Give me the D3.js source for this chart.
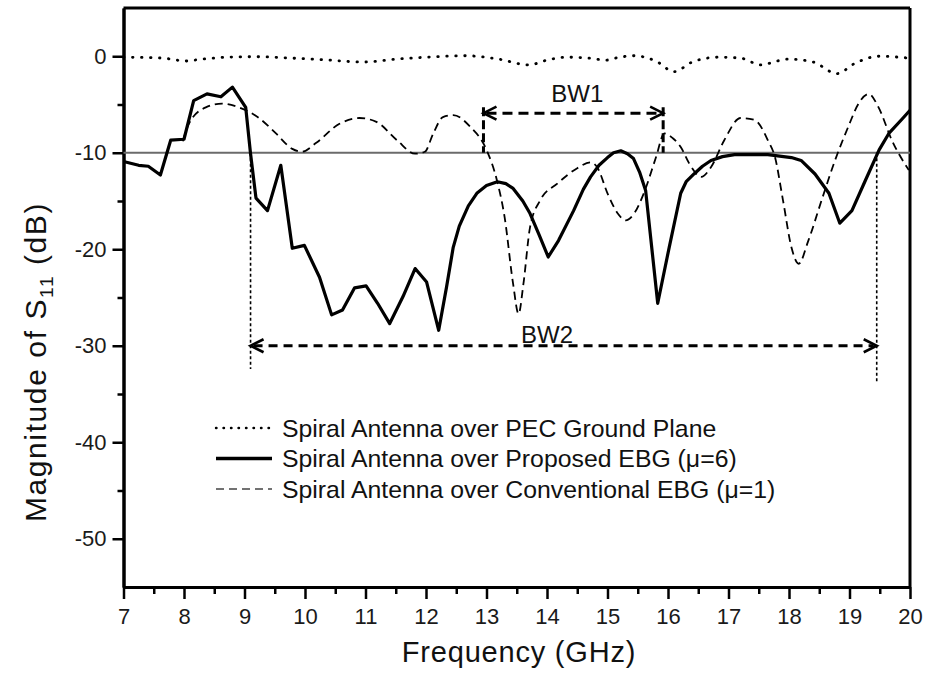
<!DOCTYPE html>
<html>
<head>
<meta charset="utf-8">
<script src="https://cdn.jsdelivr.net/npm/d3@7"></script>
<style>
  html, body { margin: 0; padding: 0; background: #fff; }
  svg { display: block; font-family: "Liberation Sans", Arial, Helvetica, sans-serif; }
</style>
</head>
<body>
<svg id="chart" width="935" height="674"></svg>
<script>
// ---------------- DATA ----------------
const xTicks = [7, 8, 9, 10, 11, 12, 13, 14, 15, 16, 17, 18, 19, 20];
const yTicks = [0, -10, -20, -30, -40, -50];

const legendLabels = [
  "Spiral Antenna over PEC Ground Plane",
  "Spiral Antenna over Proposed EBG (\u03bc=6)",
  "Spiral Antenna over Conventional EBG (\u03bc=1)"
];

// PEC ground plane (dotted)
const pecFreq = [7, 7.5, 7.8, 8.0, 8.3, 8.7, 9.2, 9.8, 10.4, 10.95, 11.5, 12.0, 12.67, 13.2, 13.7, 14.0, 14.33, 14.7, 14.97, 15.2, 15.44, 15.8, 16.1, 16.4, 16.83, 17.2, 17.54, 17.8, 17.99, 18.4, 18.79, 19.1, 19.49, 20];
const pecS11  = [-0.1, -0.15, -0.3, -0.5, -0.3, -0.1, -0.05, -0.2, -0.4, -0.6, -0.3, -0.1, 0.05, -0.3, -0.9, -0.4, -0.1, -0.2, -0.4, -0.1, 0.05, -0.5, -1.6, -0.6, -0.1, -0.2, -0.9, -0.5, -0.3, -0.6, -1.8, -0.7, 0, -0.2];

// Proposed EBG mu=6 (solid)
const propFreq = [7.0, 7.25, 7.41, 7.61, 7.78, 8.0, 8.16, 8.38, 8.61, 8.8, 9.02, 9.1, 9.19, 9.38, 9.6, 9.79, 9.99, 10.24, 10.44, 10.62, 10.82, 11.01, 11.2, 11.4, 11.62, 11.82, 12.01, 12.21, 12.34, 12.45, 12.55, 12.7, 12.84, 13.0, 13.18, 13.32, 13.44, 13.6, 13.72, 13.87, 14.02, 14.19, 14.44, 14.6, 14.72, 14.86, 15.0, 15.1, 15.22, 15.33, 15.43, 15.53, 15.63, 15.83, 16.02, 16.21, 16.3, 16.43, 16.57, 16.71, 16.9, 17.1, 17.65, 18.04, 18.2, 18.43, 18.66, 18.84, 19.04, 19.26, 19.49, 19.65, 19.87, 20.0];
const propS11  = [-10.9, -11.3, -11.4, -12.3, -8.7, -8.6, -4.6, -3.9, -4.2, -3.2, -5.3, -10.1, -14.7, -16.0, -11.3, -19.9, -19.6, -22.9, -26.8, -26.3, -24.0, -23.8, -25.6, -27.7, -24.9, -22.0, -23.4, -28.4, -23.9, -19.8, -17.6, -15.5, -14.2, -13.4, -13.0, -13.2, -13.7, -15.0, -16.3, -18.5, -20.8, -19.1, -16.0, -13.8, -12.5, -11.3, -10.5, -10.0, -9.8, -10.1, -10.6, -12.0, -13.9, -25.6, -19.8, -14.2, -13.0, -12.2, -11.4, -10.8, -10.4, -10.2, -10.2, -10.5, -10.8, -12.2, -14.2, -17.3, -16.0, -12.9, -9.7, -8.0, -6.5, -5.6];

// Conventional EBG mu=1 (dashed)
const convFreq = [7.98, 8.08, 8.36, 8.63, 8.91, 9.24, 9.52, 9.79, 9.95, 10.18, 10.57, 10.9, 11.18, 11.52, 11.82, 11.98, 12.12, 12.28, 12.45, 12.73, 13.0, 13.17, 13.3, 13.44, 13.53, 13.61, 13.72, 13.89, 14.17, 14.5, 14.72, 14.83, 15.0, 15.17, 15.3, 15.45, 15.6, 15.8, 15.94, 16.08, 16.21, 16.35, 16.55, 16.71, 16.93, 17.2, 17.43, 17.65, 17.77, 17.9, 18.04, 18.16, 18.32, 18.54, 18.76, 18.98, 19.15, 19.32, 19.48, 19.7, 19.98];
const convS11  = [-8.8, -7.0, -5.3, -4.9, -5.3, -6.4, -8.0, -9.6, -9.9, -9.0, -7.0, -6.4, -6.8, -8.7, -10.1, -9.9, -8.0, -6.3, -6.1, -7.3, -9.7, -12.8, -16.7, -23.6, -26.7, -23.6, -17.7, -14.9, -13.2, -11.6, -11.0, -11.5, -14.2, -16.3, -17.0, -16.2, -14.2, -10.5, -8.0, -8.5, -9.4, -11.1, -12.5, -11.5, -8.7, -6.4, -6.6, -8.7, -10.5, -14.9, -19.8, -21.5, -19.1, -14.9, -10.8, -7.3, -4.9, -3.9, -5.3, -8.7, -11.8];

// Reference level and bandwidth annotations
const refLevel = -10;
const bw1 = { label: "BW1", from: 12.95, to: 15.92, level: -5.9, labelFreq: 14.5, labelLevel: -4.75 };
const bw2 = { label: "BW2", from: 9.1, to: 19.45, level: -30, labelFreq: 14.0, labelLevel: -29.7, dropL: -32.4, dropR: -33.8 };

// ---------------- CHART ----------------
const svg = d3.select("#chart");
const mLeft = 123.5, mRight = 910, mTop = 8, mBottom = 587;

const x = d3.scaleLinear().domain([7, 20]).range([mLeft, mRight]);
const y = d3.scaleLinear().domain([-55, 5]).range([mBottom, mTop]);

// frame (top and right)
svg.append("line").attr("x1", mLeft).attr("x2", mRight).attr("y1", mTop).attr("y2", mTop)
  .attr("stroke", "#000").attr("stroke-width", 3);
svg.append("line").attr("x1", mRight).attr("x2", mRight).attr("y1", mTop).attr("y2", mBottom)
  .attr("stroke", "#000").attr("stroke-width", 3);

// axes
const xMinor = d3.range(7.5, 20, 1);
const yMinor = d3.range(-5, -55, -10);

const xAxis = svg.append("g").attr("transform", `translate(0,${mBottom})`)
  .call(d3.axisBottom(x).tickValues(xTicks).tickFormat(d3.format("d")).tickSize(12).tickSizeOuter(0).tickPadding(9));
const xAxisMinor = svg.append("g").attr("transform", `translate(0,${mBottom})`)
  .call(d3.axisBottom(x).tickValues(xMinor).tickFormat("").tickSize(7).tickSizeOuter(0));
const yAxis = svg.append("g").attr("transform", `translate(${mLeft},0)`)
  .call(d3.axisLeft(y).tickValues(yTicks).tickFormat(d => d === 0 ? "0" : "-" + Math.abs(d)).tickSize(11).tickSizeOuter(0).tickPadding(6));
const yAxisMinor = svg.append("g").attr("transform", `translate(${mLeft},0)`)
  .call(d3.axisLeft(y).tickValues(yMinor).tickFormat("").tickSize(6).tickSizeOuter(0));

[xAxis, xAxisMinor, yAxis, yAxisMinor].forEach(g => {
  g.select(".domain").attr("stroke", "#000").attr("stroke-width", 3);
  g.selectAll(".tick line").attr("stroke", "#000").attr("stroke-width", 2.5);
  g.selectAll(".tick text").attr("fill", "#1a1a1a").attr("font-size", 22)
    .attr("font-family", '"Liberation Sans", Arial, sans-serif');
});

// -10 dB reference
svg.append("line").attr("x1", x(7)).attr("x2", x(20)).attr("y1", y(refLevel)).attr("y2", y(refLevel))
  .attr("stroke", "#6b6b6b").attr("stroke-width", 2.2);

// curves
const lineSmooth = d3.line().x(d => x(d[0])).y(d => y(d[1])).curve(d3.curveMonotoneX);
const lineLinear = d3.line().x(d => x(d[0])).y(d => y(d[1]));

svg.append("path").datum(d3.zip(pecFreq, pecS11)).attr("d", lineSmooth)
  .attr("fill", "none").attr("stroke", "#000").attr("stroke-width", 2.8)
  .attr("stroke-dasharray", "0.5,8.5").attr("stroke-linecap", "round");

svg.append("path").datum(d3.zip(convFreq, convS11)).attr("d", lineSmooth)
  .attr("fill", "none").attr("stroke", "#000").attr("stroke-width", 1.8)
  .attr("stroke-dasharray", "8,5");

svg.append("path").datum(d3.zip(propFreq, propS11)).attr("d", lineLinear)
  .attr("fill", "none").attr("stroke", "#000").attr("stroke-width", 3.2)
  .attr("stroke-linejoin", "round");

// ---------------- annotations ----------------
function chevron(g, xTip, yTip, dir) {
  const w = 13 * dir, h = 6.5;
  g.append("path").attr("d", `M${xTip + w},${yTip - h} L${xTip},${yTip} L${xTip + w},${yTip + h}`)
    .attr("fill", "none").attr("stroke", "#000").attr("stroke-width", 2.6);
}

// BW1
const a1 = svg.append("g");
a1.append("line").attr("x1", x(bw1.from) + 3).attr("x2", x(bw1.to) - 3)
  .attr("y1", y(bw1.level)).attr("y2", y(bw1.level))
  .attr("stroke", "#000").attr("stroke-width", 3).attr("stroke-dasharray", "10,6");
[bw1.from, bw1.to].forEach(f => {
  a1.append("line").attr("x1", x(f)).attr("x2", x(f)).attr("y1", y(bw1.level) - 6).attr("y2", y(refLevel))
    .attr("stroke", "#000").attr("stroke-width", 3).attr("stroke-dasharray", "9,4");
});
chevron(a1, x(bw1.from), y(bw1.level), 1);
chevron(a1, x(bw1.to), y(bw1.level), -1);
a1.append("text").attr("x", x(bw1.labelFreq)).attr("y", y(bw1.labelLevel))
  .attr("text-anchor", "middle").attr("font-size", 24).attr("fill", "#111").text(bw1.label);

// BW2
const a2 = svg.append("g");
[[bw2.from, bw2.dropL], [bw2.to, bw2.dropR]].forEach(([f, lo]) => {
  a2.append("line").attr("x1", x(f)).attr("x2", x(f)).attr("y1", y(refLevel)).attr("y2", y(lo))
    .attr("stroke", "#000").attr("stroke-width", 1.6).attr("stroke-dasharray", "3,2.5");
});
a2.append("line").attr("x1", x(bw2.from) + 3).attr("x2", x(bw2.to) - 3)
  .attr("y1", y(bw2.level)).attr("y2", y(bw2.level))
  .attr("stroke", "#000").attr("stroke-width", 2.8).attr("stroke-dasharray", "9,6");
chevron(a2, x(bw2.from), y(bw2.level), 1);
chevron(a2, x(bw2.to), y(bw2.level), -1);
a2.append("text").attr("x", x(bw2.labelFreq)).attr("y", y(bw2.labelLevel))
  .attr("text-anchor", "middle").attr("font-size", 24).attr("fill", "#111").text(bw2.label);

// ---------------- legend ----------------
const legendStyles = [
  { w: 2.4, dash: "0.5,7", cap: "round" },
  { w: 3.4, dash: null, cap: "butt" },
  { w: 1.5, dash: "8,5", cap: "butt" }
];
const lg = svg.append("g");
legendLabels.forEach((lab, i) => {
  const ly = 428 + i * 30.5;
  const st = legendStyles[i];
  const ln = lg.append("line").attr("x1", 216).attr("x2", 272).attr("y1", ly).attr("y2", ly)
    .attr("stroke", i === 2 ? "#444" : "#000").attr("stroke-width", st.w).attr("stroke-linecap", st.cap);
  if (st.dash) ln.attr("stroke-dasharray", st.dash);
  lg.append("text").attr("x", 282).attr("y", ly + 8.5).attr("font-size", 24.8).attr("fill", "#111").text(lab);
});

// ---------------- axis titles ----------------
svg.append("text").attr("x", 519).attr("y", 662).attr("text-anchor", "middle")
  .attr("font-size", 29).attr("letter-spacing", 0.8).attr("fill", "#111").text("Frequency (GHz)");

const yt = svg.append("text").attr("transform", "translate(46,362) rotate(-90)")
  .attr("text-anchor", "middle").attr("font-size", 30).attr("letter-spacing", 1.6).attr("fill", "#111");
yt.append("tspan").text("Magnitude of S");
yt.append("tspan").attr("font-size", 19).attr("dy", 7).text("11");
yt.append("tspan").attr("dy", -7).text(" (dB)");
</script>
</body>
</html>
